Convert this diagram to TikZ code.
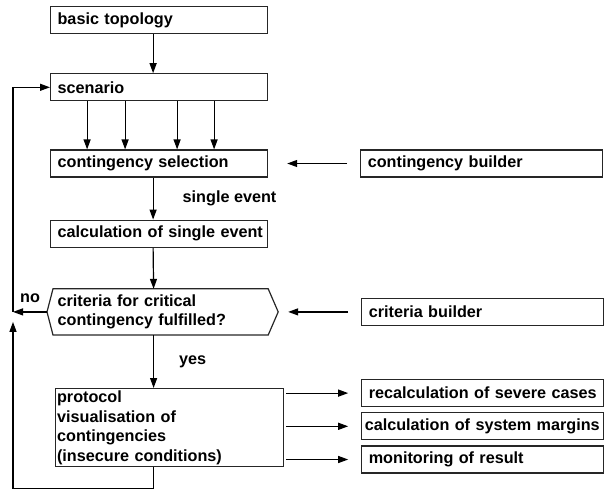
\documentclass[tikz,border=0pt]{standalone}
\usepackage{fontspec}
\setmainfont{Liberation Sans}
\usetikzlibrary{arrows.meta,positioning}

\begin{document}
\begin{tikzpicture}[
  x=1pt, y=1pt,
  font=\bfseries\fontsize{16.2}{19.5}\selectfont,
  >={Triangle[length=10pt, width=7pt]},
  box/.style={rectangle, draw=black!85, line width=1.2pt, align=left,
              inner ysep=0pt, minimum height=27pt, anchor=north west},
  mainbox/.style={box, inner xsep=0pt, text width=217pt,
                  execute at begin node={\hspace*{7pt}}},
  sidebox/.style={box, inner xsep=7pt, text width=228pt},
  lbl/.style={inner sep=0pt},
  arr/.style={->, line width=1.2pt, draw=black},
]
\useasboundingbox (0,0) rectangle (605,-488);

% ------------------------------------------------------------- main column
\node[mainbox] (basic) at (50,-6) {basic topology};
\node[mainbox, below=39pt of basic.south west, anchor=north west] (scen) {scenario};
\node[mainbox, below=48pt of scen.south west, anchor=north west] (contsel) {contingency selection};
\node[mainbox, below=42pt of contsel.south west, anchor=north west] (calc) {calculation of single event};
\node[box, inner xsep=4pt, text width=206pt, minimum height=45pt, draw=none,
      below=41pt of calc.south west, anchor=north west, xshift=3pt] (crit)
     {criteria for critical\\contingency fulfilled?};
\draw[draw=black!85, line width=1.2pt] (crit.north west) -- (crit.north east)
  -- ([xshift=10pt]crit.east) -- (crit.south east) -- (crit.south west)
  -- ([xshift=-6pt]crit.west) -- cycle;
\node[box, inner xsep=1.5pt, text width=225pt, minimum height=78pt,
      below=53pt of crit.south west, anchor=north west, xshift=2pt] (prot)
     {protocol\\visualisation of\\contingencies\\(insecure conditions)};

\draw[arr] ([xshift=-6pt]basic.south) -- ([xshift=-6pt]scen.north);
\foreach \dx in {-72,-34,18,55}
  \draw[arr] ([xshift=\dx pt]scen.south) -- ([xshift=\dx pt]contsel.north);
\draw[arr] ([xshift=-6pt]contsel.south) --
      node[lbl, right=29pt]{single event} ([xshift=-6pt]calc.north);
\draw[arr] ([xshift=-6pt]calc.south) -- ([xshift=-7pt]crit.north);
\draw[arr] ([xshift=-7pt]crit.south) --
      node[lbl, right=25pt]{yes} ([xshift=-7pt]crit.south |- prot.north);

% ------------------------------------------------------------ return loops
\coordinate (leftx) at (13,0);
\coordinate (back) at (crit.west -| leftx);
\draw[arr] ([xshift=-6pt]crit.west) -- node[lbl, above=9pt]{no} (back);
\draw[arr] (back) |- (scen.west);
\draw[arr] ([xshift=-16pt]prot.south) -- ++(0,-21) -| ([yshift=-10pt]back);

% ------------------------------------------------------------- side column
\node[sidebox, right=92pt of contsel.east, anchor=west] (cbuild) {contingency builder};
\node[sidebox, right=93pt of crit.east, anchor=west] (cribuild) {criteria builder};
\node[sidebox] (recalc) at ([xshift=77pt, yshift=9pt]prot.north east) {recalculation of severe cases};
\node[sidebox, inner xsep=3pt, text width=236pt, below=5pt of recalc.south west,
      anchor=north west] (sysmarg) {calculation of system margins};
\node[sidebox, below=5pt of sysmarg.south west, anchor=north west] (monit) {monitoring of result};

\draw[arr, shorten >=19pt, shorten <=13pt] (cbuild.west) -- (contsel.east);
\draw[arr, shorten >=20pt, shorten <=13pt] (cribuild.west) -- (cribuild.west -| crit.east);
\foreach \t in {recalc,sysmarg,monit}
  \draw[arr, shorten >=13pt, shorten <=2pt] (prot.east |- \t.west) -- (\t.west);
\end{tikzpicture}
\end{document}
